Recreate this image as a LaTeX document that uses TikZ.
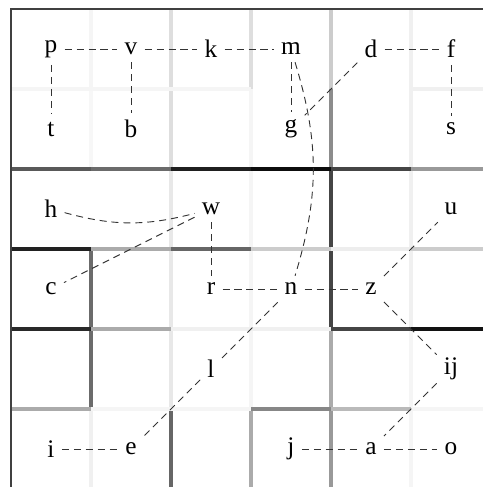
\documentclass[tikz,border=0pt]{standalone}
\usepackage{fontspec}
\setmainfont{Liberation Serif}
\begin{document}
\begin{tikzpicture}[x=2cm, y=-2cm, every node/.style={font=\fontsize{18}{21}\selectfont, inner sep=5pt}, link/.style={dash pattern=on 5pt off 3.5pt, line width=0.65pt, black!80}, wall/.style={line width=2.8pt}]

		\useasboundingbox (-0.1375,-0.1125) rectangle (5.9,5.975);
		\clip (-0.1375,-0.1125) rectangle (5.9,5.975);

		% walls between the cells, grey level per segment
		\foreach \x/\gs in {1/{4,3,0,58,58,6}, 2/{13,13,9,9,9,60}, 3/{13,4,4,4,4,33}, 4/{20,45,73,73,33,40}, 5/{6,6,6,6,4,4}}
			\foreach \g [count=\y from 0] in \gs
				{\ifnum\g>0 \draw[wall, black!\g] (\x,\y) -- (\x,\y+1); \fi}
		\foreach \y/\gs in {1/{4,4,4,0,0,6}, 2/{65,58,88,95,73,40}, 3/{87,33,60,20,7,20}, 4/{84,33,6,6,73,93}, 5/{33,4,4,47,27,4}}
			\foreach \g [count=\x from 0] in \gs
				{\ifnum\g>0 \draw[wall, black!\g] (\x,\y) -- (\x+1,\y); \fi}
		\draw[black!75, line width=1pt] (0,0) rectangle (6,6);

		\node (p) at (0.5,0.5) {p};
		\node (v) at (1.5,0.5) {v};
		\node (k) at (2.5,0.5) {k};
		\node (m) at (3.5,0.5) {m};
		\node (d) at (4.5,0.5) {d};
		\node (f) at (5.5,0.5) {f};
		\node (t) at (0.5,1.5) {t};
		\node (b) at (1.5,1.5) {b};
		\node (g) at (3.5,1.5) {g};
		\node (s) at (5.5,1.5) {s};
		\node (h) at (0.5,2.5) {h};
		\node (w) at (2.5,2.5) {w};
		\node (u) at (5.5,2.5) {u};
		\node (c) at (0.5,3.5) {c};
		\node (r) at (2.5,3.5) {r};
		\node (n) at (3.5,3.5) {n};
		\node (z) at (4.5,3.5) {z};
		\node (l) at (2.5,4.5) {l};
		\node (ij) at (5.5,4.5) {ij};
		\node (i) at (0.5,5.5) {i};
		\node (e) at (1.5,5.5) {e};
		\node (j) at (3.5,5.5) {j};
		\node (a) at (4.5,5.5) {a};
		\node (o) at (5.5,5.5) {o};

		\draw[link] (p) -- (v);
		\draw[link] (v) -- (k);
		\draw[link] (k) -- (m);
		\draw[link] (p) -- (t);
		\draw[link] (v) -- (b);
		\draw[link] (m) -- (g);
		\draw[link] (m) to[bend left=17] (n);
		\draw[link] (d) -- (f);
		\draw[link] (f) -- (s);
		\draw[link] (d) -- (g);
		\draw[link] (h) to[bend right=15] (w);
		\draw[link] (w) -- (c);
		\draw[link] (w) -- (r);
		\draw[link] (r) -- (n);
		\draw[link] (n) -- (z);
		\draw[link] (n) -- (l);
		\draw[link] (l) -- (e);
		\draw[link] (z) -- (u);
		\draw[link] (z) -- (ij);
		\draw[link] (ij) -- (a);
		\draw[link] (i) -- (e);
		\draw[link] (j) -- (a);
		\draw[link] (a) -- (o);
	\end{tikzpicture}
\end{document}
